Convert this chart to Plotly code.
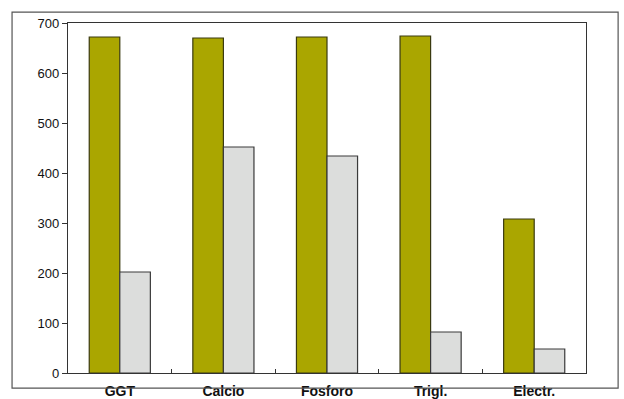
import plotly.graph_objects as go

categories = ["GGT", "Calcio", "Fosforo", "Trigl.", "Electr."]
series_a = [672, 670, 672, 674, 308]
series_b = [202, 452, 434, 82, 48]
y_ticks = [0, 100, 200, 300, 400, 500, 600, 700]

fig = go.Figure()
fig.add_trace(go.Bar(x=categories, y=series_a, name="A",
                     marker=dict(color="#aaa600", line=dict(color="#3a3a10", width=1.2))))
fig.add_trace(go.Bar(x=categories, y=series_b, name="B",
                     marker=dict(color="#dcdddc", line=dict(color="#3a3a3a", width=1.2))))

fig.update_layout(
    width=624, height=399,
    margin=dict(l=68, r=38, t=23, b=26, autoexpand=False),
    paper_bgcolor="white", plot_bgcolor="white",
    barmode="group", bargap=0.41, bargroupgap=0,
    showlegend=False,
    font=dict(family="Liberation Sans, Arial, sans-serif", color="#111111"),
    shapes=[dict(type="rect", xref="paper", yref="paper",
                 x0=-0.108, x1=1.062, y0=-0.043, y1=1.031,
                 line=dict(color="#555555", width=1.2), fillcolor="rgba(0,0,0,0)")],
)
fig.update_xaxes(showline=True, linecolor="#333333", linewidth=1.2, mirror=True,
                 ticks="inside", ticklen=4, tickcolor="#333333", tickson="boundaries",
                 tickfont=dict(size=14, family="Liberation Sans, Arial, sans-serif", weight="bold"),
                 showgrid=False, automargin=False, ticklabelstandoff=5)
fig.update_yaxes(range=[0, 700], tickvals=y_ticks, showline=True, linecolor="#333333",
                 linewidth=1.2, mirror=True, ticks="outside", ticklen=5, tickcolor="#333333",
                 tickfont=dict(size=13), showgrid=False, zeroline=False, automargin=False)

fig.write_html("out.html", config={"displayModeBar": False},
               post_script="document.body.style.margin='0';document.body.style.overflow='hidden';")
